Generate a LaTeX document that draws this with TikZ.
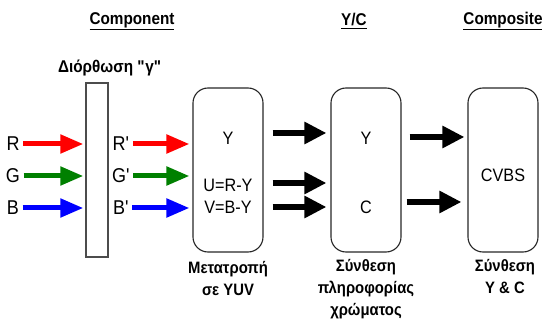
\documentclass[tikz,border=0pt]{standalone}
\usepackage{fontspec}
\setmainfont{Liberation Sans}[FakeStretch=0.9]
\usetikzlibrary{arrows.meta,positioning,calc}

\begin{document}
\begin{tikzpicture}[x=1pt, y=-1pt,
        procbox/.style={draw=black!85, line width=1.1pt, rounded corners=15pt, minimum width=70pt, minimum height=164pt},
        colarrow/.style={line width=5pt, -{Triangle[length=23pt,width=18pt]}},
        blkarrow/.style={line width=6pt, -{Triangle[length=22pt,width=21pt]}},
        hdr/.style={font=\fontsize{17}{19}\selectfont\bfseries},
        sig/.style={font=\fontsize{20}{22}\selectfont},
        boxtxt/.style={font=\fontsize{18}{20}\selectfont},
        caption/.style={font=\fontsize{16.5}{22}\selectfont\bfseries, align=center, anchor=north, inner sep=0pt}]
        \useasboundingbox (0,0) rectangle (542,321);

        % Headers
        \node (hcomp) [hdr] at (132,21) {\underline{Component}};
        \node (hyc) [hdr] at (354,21) {\underline{Y/C}};
        \node (hcvbs) [hdr] at (503,21) {\underline{Composite}};

        % Gamma correction
        \node (gtitle) [hdr] at (110,68) {Διόρθωση \textquotedbl γ\textquotedbl};
        \node (gamma) [draw=black!70, line width=1.3pt, minimum width=22pt, minimum height=174pt] at (97,170) {};

        % Blocks
        \node (boxA) [procbox] at (228,170) {};
        \node (boxB) [procbox] at (366,170) {};
        \node (boxC) [procbox] at (503,170) {};

        % Signals
        \node (inR) [sig] at (13,144) {R};
        \node (inG) [sig] at (13,176) {G};
        \node (inB) [sig] at (13,208) {B};
        \node (outR) [sig] at (121,144) {R\textquotesingle};
        \node (outG) [sig] at (121,176) {G\textquotesingle};
        \node (outB) [sig] at (121,208) {B\textquotesingle};

        % Block texts
        \node (Ya) [boxtxt] at (228,138) {Y};
        \node (Ua) [boxtxt] at (228,185) {U=R-Y};
        \node (Va) [boxtxt] at (228,207) {V=B-Y};
        \node (Yb) [boxtxt] at (366,138) {Y};
        \node (Cb) [boxtxt] at (366,207) {C};
        \node (cvbs) [boxtxt] at (503,175) {CVBS};

        % Captions
        \node (capA) [caption] at (228,261) {Μετατροπή\\σε YUV};
        \node (capB) [caption] at (366,259) {Σύνθεση\\πληροφορίας\\χρώματος};
        \node (capC) [caption] at (505,259) {Σύνθεση\\Y \& C};

        % Colour arrows
        \draw[colarrow, red] (inR.east) -- ([xshift=-2pt]inR.east -| gamma.west);
        \draw[colarrow, green!50!black] (inG.east) -- ([xshift=-2pt]inG.east -| gamma.west);
        \draw[colarrow, blue] (inB.east) -- ([xshift=-2pt]inB.east -| gamma.west);
        \draw[colarrow, red] (outR.east) -- ([xshift=-3pt]outR.east -| boxA.west);
        \draw[colarrow, green!50!black] (outG.east) -- ([xshift=-3pt]outG.east -| boxA.west);
        \draw[colarrow, blue] (outB.east) -- ([xshift=-3pt]outB.east -| boxA.west);

        % Black arrows
        \draw[blkarrow, shorten <=9pt, shorten >=4pt] ([yshift=5pt]boxA.east |- Ya) -- ([yshift=5pt]boxB.west |- Ya);
        \draw[blkarrow, shorten <=9pt, shorten >=4pt] ([yshift=2pt]boxA.east |- Ua) -- ([yshift=2pt]boxB.west |- Ua);
        \draw[blkarrow, shorten <=9pt, shorten >=4pt] (boxA.east |- Va) -- (boxB.west |- Va);
        \draw[blkarrow, shorten <=8pt, shorten >=3pt] ([yshift=1pt]boxB.east |- Yb) -- ([yshift=1pt]boxC.west |- Yb);
        \draw[blkarrow, shorten <=5pt, shorten >=6pt] ([yshift=5pt]boxB.east |- Cb) -- ([yshift=5pt]boxC.west |- Cb);
    \end{tikzpicture}
\end{document}
